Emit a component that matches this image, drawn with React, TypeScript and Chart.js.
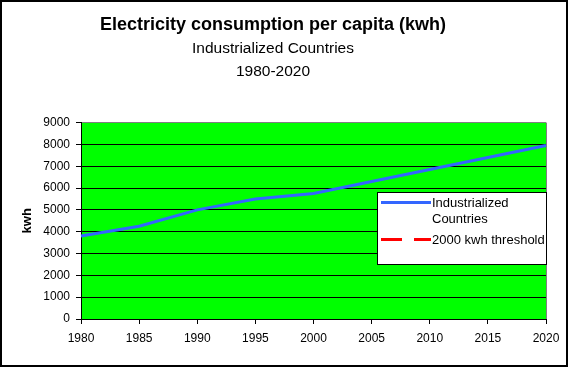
import React, { useEffect, useRef } from "react";
import { Chart, registerables } from "chart.js";

Chart.register(...registerables);

const years = ["1980", "1985", "1990", "1995", "2000", "2005", "2010", "2015", "2020"];
const industrializedValues = [3800, 4250, 5000, 5500, 5750, 6300, 6850, 7400, 7950];
const thresholdValues: (number | null)[] = [];
const seriesLabels = ["Industrialized Countries", "2000 kwh threshold"];
const titleText = "Electricity consumption per capita (kwh)";
const subtitleLines = ["Industrialized Countries", "1980-2020"];
const yAxisTitle = "kwh";

const FONT = "'Liberation Sans', Arial, sans-serif";

const frameAndPlot = {
  id: "frameAndPlot",
  beforeDraw(chart: any) {
    const { ctx, chartArea, width, height } = chart;
    ctx.save();
    ctx.fillStyle = "#ffffff";
    ctx.fillRect(0, 0, width, height);
    ctx.fillStyle = "#000000";
    ctx.fillRect(0, 0, 568, 2);
    ctx.fillRect(0, 0, 2, 367);
    ctx.fillRect(566, 0, 2, 367);
    ctx.fillRect(0, 365, 568, 2);
    ctx.fillStyle = "#00ff00";
    ctx.fillRect(chartArea.left, chartArea.top, chartArea.right - chartArea.left, chartArea.bottom - chartArea.top);
    ctx.fillStyle = "#808080";
    ctx.fillRect(chartArea.right, chartArea.top, 1, chartArea.bottom - chartArea.top);
    ctx.restore();
  },
};

const boxLegend = {
  id: "boxLegend",
  afterDraw(chart: any) {
    const { ctx } = chart;
    const x = 377, y = 192, w = 170, h = 73;
    ctx.save();
    ctx.fillStyle = "#ffffff";
    ctx.fillRect(x, y, w, h);
    ctx.strokeStyle = "#000000";
    ctx.lineWidth = 1;
    ctx.strokeRect(x + 0.5, y + 0.5, w - 1, h - 1);
    ctx.font = `13px ${FONT}`;
    ctx.textBaseline = "alphabetic";
    ctx.textAlign = "left";
    const textX = 432;
    const maxW = 120;
    let baseY = 207;
    chart.data.datasets.forEach((ds: any) => {
      const words = String(ds.label).split(" ");
      const lines: string[] = [];
      let cur = "";
      words.forEach((wd: string) => {
        const test = cur ? cur + " " + wd : wd;
        if (ctx.measureText(test).width > maxW && cur) {
          lines.push(cur);
          cur = wd;
        } else cur = test;
      });
      if (cur) lines.push(cur);
      const sampleY = baseY - 4.5;
      ctx.strokeStyle = ds.borderColor;
      ctx.lineWidth = 3;
      ctx.setLineDash(ds.borderDash || []);
      ctx.beginPath();
      ctx.moveTo(381, sampleY);
      ctx.lineTo(431, sampleY);
      ctx.stroke();
      ctx.setLineDash([]);
      ctx.fillStyle = "#000000";
      lines.forEach((ln, i) => ctx.fillText(ln, textX, baseY + i * 16));
      baseY += lines.length * 16 + 5;
    });
    ctx.restore();
  },
};

export default function App() {
  const ref = useRef<HTMLCanvasElement | null>(null);
  useEffect(() => {
    document.body.style.margin = "0";
    if (!ref.current) return;
    const chart = new Chart(ref.current, {
      type: "line",
      data: {
        labels: years,
        datasets: [
          {
            label: seriesLabels[0],
            data: industrializedValues,
            borderColor: "#3366ff",
            borderWidth: 3,
            pointRadius: 0,
            tension: 0,
            fill: false,
          },
          {
            label: seriesLabels[1],
            data: thresholdValues,
            borderColor: "#ff0000",
            borderDash: [21, 12],
            borderWidth: 3,
            pointRadius: 0,
            fill: false,
          },
        ],
      },
      options: {
        responsive: false,
        animation: false,
        devicePixelRatio: 1,
        layout: { padding: { left: 0, right: 23, top: 0, bottom: 0 } },
        plugins: {
          legend: { display: false },
          tooltip: { enabled: false },
          title: {
            display: true,
            text: titleText,
            color: "#000",
            font: { family: FONT, size: 18, weight: "bold", lineHeight: 1.2 },
            padding: { top: 14, bottom: 0 },
          },
          subtitle: {
            display: true,
            text: subtitleLines,
            color: "#000",
            font: { family: FONT, size: 15.5, weight: "normal", lineHeight: "22.5px" },
            padding: { top: 2, bottom: 40 },
          },
        },
        scales: {
          x: {
            type: "category",
            offset: false,
            grid: { display: true, drawOnChartArea: false, drawTicks: true, tickLength: 5, tickColor: "#000" },
            border: { display: true, color: "#000", width: 1 },
            ticks: { color: "#000", font: { family: FONT, size: 12 }, padding: 7, maxRotation: 0, autoSkip: false },
            afterFit(scale: any) {
              scale.height = 49;
            },
          },
          y: {
            min: 0,
            max: 9000,
            grid: {
              color: (c: any) => (c.tick && c.tick.value === 9000 ? "#808080" : "#000000"),
              tickColor: "#000",
              tickLength: 5,
              lineWidth: 1,
            },
            border: { display: true, color: "#000", width: 1 },
            ticks: {
              stepSize: 1000,
              color: "#000",
              font: { family: FONT, size: 12 },
              padding: 6,
              callback: (v: any) => String(v),
            },
            title: {
              display: true,
              text: yAxisTitle,
              color: "#000",
              font: { family: FONT, size: 13, weight: "bold" },
              padding: { top: 20, bottom: 0 },
            },
            afterFit(scale: any) {
              scale.width = 81;
            },
          },
        },
      },
      plugins: [frameAndPlot, boxLegend],
    });
    return () => chart.destroy();
  }, []);
  return (
    <div style={{ width: 569, height: 368 }}>
      <canvas ref={ref} width={569} height={368} style={{ display: "block" }} />
    </div>
  );
}
